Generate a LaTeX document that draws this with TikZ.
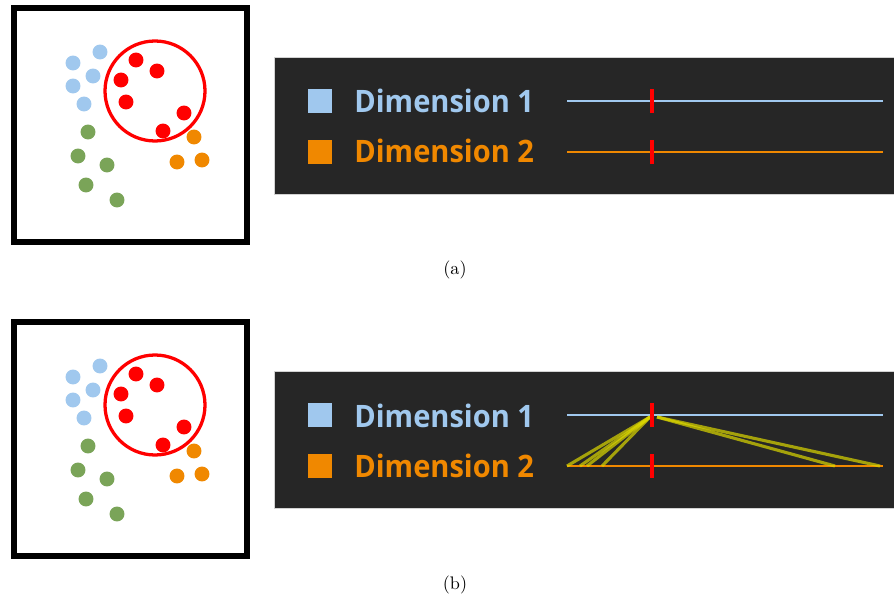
\documentclass[tikz,border=0pt]{standalone}
\usepackage{fontspec}
\newfontfamily\dimfont[FakeStretch=0.94]{Open Sans}
\usetikzlibrary{positioning,calc}
\definecolor{dimblue}{RGB}{160,200,238}
\definecolor{dimorange}{RGB}{240,136,0}
\definecolor{ptgreen}{RGB}{122,164,88}
\definecolor{ptred}{RGB}{255,0,0}
\definecolor{panelbg}{RGB}{38,38,38}
\definecolor{linkyellow}{RGB}{220,215,0}
\tikzset{
  frame/.style={draw=black, line width=3.3pt, fill=white},
  dot/.style={circle, minimum size=8.2pt, inner sep=0pt, draw=none},
  cluster/.style={draw=ptred, circle, line width=1.8pt, minimum size=55pt, inner sep=0pt},
  panel/.style={fill=panelbg, draw=gray!35, line width=0.4pt},
  sq/.style={rectangle, minimum size=13.2pt, inner sep=0pt, draw=none},
  dimlbl/.style={font=\dimfont\bfseries\fontsize{17pt}{20pt}\selectfont, inner sep=0pt, anchor=base west},
  axis/.style={line width=1.2pt},
  tick/.style={rectangle, fill=ptred, minimum width=1.7pt, minimum height=13.2pt, inner sep=0pt},
  link/.style={draw=linkyellow, line width=1.7pt, opacity=0.7},
  capn/.style={font=\normalsize},
}

\begin{document}
\begin{tikzpicture}[x=0.55pt,y=-0.55pt]
\useasboundingbox (0,0) rectangle (894,599);
\foreach \dy/\tag in {0/a,314/b}{
\begin{scope}[shift={(0,\dy)}]
% scatter plot
\draw[frame] (14,8.5) rectangle (247,242);
\foreach \px/\py [count=\i] in {100/52,73/63,93/76,73/86,84/104}
  \node[dot, fill=dimblue] (blue\tag\i) at (\px,\py) {};
\foreach \px/\py [count=\i] in {88/132,78/156,107/165,86/185,117/200}
  \node[dot, fill=ptgreen] (green\tag\i) at (\px,\py) {};
\foreach \px/\py [count=\i] in {194/137,177/162,202/160}
  \node[dot, fill=dimorange] (orange\tag\i) at (\px,\py) {};
\foreach \px/\py [count=\i] in {136/60,157/71,121/80,126/102,184/113,163/131}
  \node[dot, fill=ptred] (red\tag\i) at (\px,\py) {};
\node[cluster] (sel\tag) at (155,91) {};
% parallel coordinates
\filldraw[panel] (274,57) rectangle (900,194);
\node[sq, fill=dimblue] (sq1\tag) at (320,101) {};
\node[sq, fill=dimorange] (sq2\tag) at (320,152) {};
\node[dimlbl, text=dimblue] (lbl1\tag) at (354,113) {Dimension 1};
\node[dimlbl, text=dimorange] (lbl2\tag) at (354,163) {Dimension 2};
\coordinate (d1s\tag) at (567,101);
\coordinate (d1e\tag) at (883,101);
\coordinate (d2s\tag) at (567,152);
\coordinate (d2e\tag) at (883,152);
\draw[axis, dimblue] (d1s\tag) -- (d1e\tag);
\draw[axis, dimorange] (d2s\tag) -- (d2e\tag);
\end{scope}
}
% links of the brushed points
\coordinate (apexL) at (650,417);
\coordinate (apexR) at (657,417);
\foreach \bx [count=\i] in {567,580,587,602}{
  \coordinate (footL\i) at (\bx,466);
  \draw[link] (apexL) -- (footL\i);
}
\foreach \bx [count=\i] in {835,880}{
  \coordinate (footR\i) at (\bx,466);
  \draw[link] (apexR) -- (footR\i);
}
\foreach \tag in {a,b}{
  \node[tick] (t1\tag) at ($(d1s\tag)!0.269!(d1e\tag)$) {};
  \node[tick] (t2\tag) at ($(d2s\tag)!0.269!(d2e\tag)$) {};
}
\node[capn] (capa) at (455,270) {(a)};
\node[capn] (capb) at (455,585) {(b)};
\end{tikzpicture}
\end{document}
